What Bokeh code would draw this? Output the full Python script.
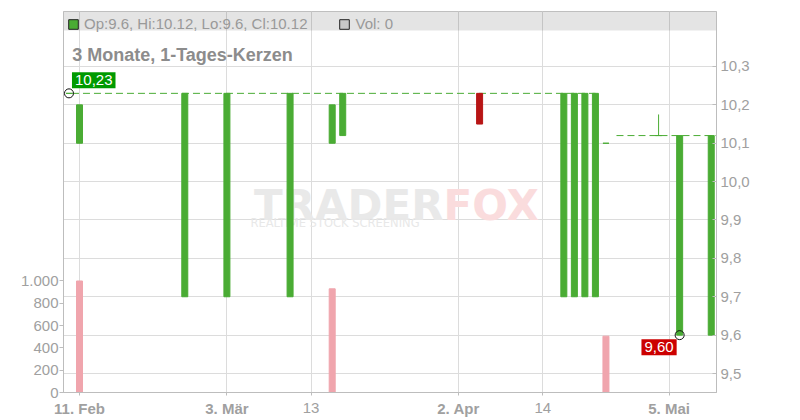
from bokeh.plotting import figure
from bokeh.models import (Range1d, LinearAxis, FixedTicker, Label, BoxAnnotation,
                          ColumnDataSource, Legend, LegendItem)
from bokeh.embed import file_html
from bokeh.resources import INLINE

FONT = "Liberation Sans"

# ---- data (trading-day index, 0 = 11. Feb) ----
candle_day   = [-1, 0, 10, 14, 20, 24, 25, 38, 46, 47, 48, 49, 50, 55, 57, 60]
candle_open  = [10.23, 10.10, 9.70, 9.70, 9.70, 10.10, 10.12, 10.23, 9.70, 9.70, 9.70, 9.70, 10.10, 10.12, 9.60, 9.60]
candle_high  = [10.23, 10.20, 10.23, 10.23, 10.23, 10.20, 10.23, 10.23, 10.23, 10.23, 10.23, 10.23, 10.10, 10.175, 10.12, 10.12]
candle_low   = [10.23, 10.10, 9.70, 9.70, 9.70, 10.10, 10.12, 10.15, 9.70, 9.70, 9.70, 9.70, 10.10, 10.12, 9.60, 9.60]
candle_close = [10.23, 10.20, 10.23, 10.23, 10.23, 10.20, 10.23, 10.15, 10.23, 10.23, 10.23, 10.23, 10.10, 10.12, 10.12, 10.12]

vol_day   = [0, 24, 50]
vol_value = [1000, 930, 505]
last_volume = 0

close_line_start = 51

tick_day   = [0, 14, 22, 36, 44, 56]
tick_label = ["11. Feb", "3. Mär", "13", "2. Apr", "14", "5. Mai"]
tick_bold  = [True, True, False, True, False, True]

price_ticks = [9.5, 9.6, 9.7, 9.8, 9.9, 10.0, 10.1, 10.2, 10.3]
vol_ticks   = [0, 200, 400, 600, 800, 1000]

title_text = "3 Monate, 1-Tages-Kerzen"

GREEN = "#4aac34"
RED = "#b81515"
PINK = "#f0a5ad"
LABEL_GREY = "#a0a0a0"
AXIS_GREY = "#bdbdbd"

X0, X1 = -1.52, 60.5
Y0, Y1 = 9.4505, 10.4433

p = figure(width=800, height=420, output_backend="svg", toolbar_location=None,
           x_range=Range1d(X0, X1), y_range=Range1d(Y0, Y1),
           y_axis_location="right",
           min_border_left=63, min_border_right=84, min_border_top=11, min_border_bottom=28)
p.extra_y_ranges = {"vol": Range1d(0, 3417)}
p.background_fill_color = "white"
p.border_fill_color = "white"
p.outline_line_color = "#c4c4c4"

# grids
p.xgrid.ticker = FixedTicker(ticks=tick_day)
p.ygrid.ticker = FixedTicker(ticks=price_ticks)
p.grid.grid_line_color = "#dcdcdc"
p.grid.grid_line_width = 1

# header band
p.add_layout(BoxAnnotation(bottom=Y1 - 19 / 383.75, fill_color="#000000", fill_alpha=0.105,
                           line_alpha=0, level="underlay"))

# price axis (right)
ya = p.yaxis[0]
ya.ticker = FixedTicker(ticks=price_ticks)
ya.major_label_overrides = {t: f"{t:.1f}".replace(".", ",") for t in price_ticks}
ya.major_tick_in = 4
ya.major_tick_out = 0
ya.minor_tick_line_color = None
ya.major_label_standoff = 4
ya.axis_line_color = AXIS_GREY
ya.major_tick_line_color = AXIS_GREY
ya.major_label_text_color = LABEL_GREY
ya.major_label_text_font = FONT
ya.major_label_text_font_size = "15px"

# volume axis (left)
va = LinearAxis(y_range_name="vol", ticker=FixedTicker(ticks=vol_ticks))
va.major_label_overrides = {v: f"{v:,}".replace(",", ".") for v in vol_ticks}
va.major_tick_in = 0
va.major_tick_out = 4
va.minor_tick_line_color = None
va.major_label_standoff = 1
va.axis_line_color = AXIS_GREY
va.major_tick_line_color = AXIS_GREY
va.major_label_text_color = LABEL_GREY
va.major_label_text_font = FONT
va.major_label_text_font_size = "15px"
p.add_layout(va, "left")

# x axis: bold month labels on the main axis, plain day labels on a second axis
plain_days = [d for d, b in zip(tick_day, tick_bold) if not b]
xa = p.xaxis[0]
xa.ticker = FixedTicker(ticks=tick_day)
xa.major_label_overrides = {d: (t if b else " ") for d, t, b in zip(tick_day, tick_label, tick_bold)}
xa.major_tick_in = 0
xa.major_tick_out = 3
xa.minor_tick_line_color = None
xa.major_label_standoff = 4
xa.axis_line_color = AXIS_GREY
xa.major_tick_line_color = AXIS_GREY
xa.major_label_text_color = LABEL_GREY
xa.major_label_text_font = FONT
xa.major_label_text_font_size = "15px"
xa.major_label_text_font_style = "bold"

xb = LinearAxis(ticker=FixedTicker(ticks=plain_days))
xb.major_label_overrides = {d: t for d, t, b in zip(tick_day, tick_label, tick_bold) if not b}
xb.major_tick_in = 0
xb.major_tick_out = 0
xb.minor_tick_line_color = None
xb.major_label_standoff = -17
xb.axis_line_color = None
xb.major_tick_line_color = None
xb.major_label_text_color = LABEL_GREY
xb.major_label_text_font = FONT
xb.major_label_text_font_size = "15px"
xb.major_label_text_font_style = "normal"
p.add_layout(xb, "below")

# watermark
p.add_layout(Label(x=34.57, y=9.938, text="TRADER", text_align="right", text_baseline="alphabetic",
                   text_font="DejaVu Sans", text_font_style="bold", text_font_size="42px",
                   text_color="#e9e9e9", level="underlay"))
p.add_layout(Label(x=34.57, y=9.938, text="FOX", text_align="left", text_baseline="alphabetic",
                   text_font="DejaVu Sans", text_font_style="bold", text_font_size="42px",
                   text_color="#fadcdd", level="underlay"))
p.add_layout(Label(x=16.23, y=9.891, text="REALTIME STOCK SCREENING", text_align="left",
                   text_baseline="alphabetic", text_font="DejaVu Sans", text_font_size="11.5px",
                   text_color="#e8e8e8", level="underlay"))

# volume bars
p.vbar(x=vol_day, top=vol_value, bottom=0, width=0.57, y_range_name="vol",
       fill_color=PINK, line_color=PINK, line_width=1)

# reference lines
max_val = max(candle_high)
max_i = candle_high.index(max_val)
last_max_i = len(candle_high) - 1 - candle_high[::-1].index(max_val)
min_val = min(candle_low)
min_i = candle_low.index(min_val)
p.segment(x0=[candle_day[max_i]], y0=[max_val], x1=[candle_day[last_max_i]], y1=[max_val],
          line_color=GREEN, line_width=1, line_dash="7 4", line_dash_offset=8)
p.segment(x0=[close_line_start], y0=[candle_close[-1]], x1=[X1], y1=[candle_close[-1]],
          line_color=GREEN, line_width=1, line_dash="7 4")

# candles
n = len(candle_day)
for up, col in ((True, GREEN), (False, RED)):
    idx = [i for i in range(n) if (candle_close[i] >= candle_open[i]) == up]
    src = ColumnDataSource(dict(
        x=[candle_day[i] for i in idx],
        hi=[candle_high[i] for i in idx],
        lo=[candle_low[i] for i in idx],
        top=[max(candle_open[i], candle_close[i]) for i in idx],
        bot=[min(candle_open[i], candle_close[i]) for i in idx],
    ))
    p.segment(x0="x", y0="lo", x1="x", y1="hi", source=src, line_color=col, line_width=1)
    p.vbar(x="x", top="top", bottom="bot", width=0.57, source=src,
           fill_color=col, line_color=col, line_width=1)

# max / min markers
p.scatter(x=[candle_day[max_i], candle_day[min_i]], y=[max_val, min_val], marker="circle",
          size=9, fill_alpha=0, line_color="#111111", line_width=1)
p.add_layout(Label(x=candle_day[max_i], y=max_val, text=f"{max_val:.2f}".replace(".", ","),
                   x_offset=3, y_offset=5, text_align="left", text_baseline="bottom",
                   text_font=FONT, text_font_size="15px", text_color="white",
                   background_fill_color="#009a00", padding=3))
p.add_layout(Label(x=candle_day[min_i], y=min_val, text=f"{min_val:.2f}".replace(".", ","),
                   x_offset=-3, y_offset=-4, text_align="right", text_baseline="top",
                   text_font=FONT, text_font_size="15px", text_color="white",
                   background_fill_color="#cc0000", padding=3))

# title
p.add_layout(Label(x=-0.7, y=10.3305, text=title_text, text_align="left", text_baseline="alphabetic",
                   text_font=FONT, text_font_size="18px", text_font_style="bold", text_color="#8c8c8c"))

# header legend (swatches for the last candle and its volume)
last_src = ColumnDataSource(dict(x=[candle_day[-1]], top=[candle_close[-1]], bot=[candle_open[-1]],
                                 vol=[last_volume]))
r_ohlc = p.vbar(x="x", top="top", bottom="bot", width=0.5, source=last_src,
                fill_color=GREEN, line_color="#222222", line_width=1, visible=False)
r_vol = p.vbar(x="x", top="vol", bottom=0, width=0.5, source=last_src, y_range_name="vol",
               fill_color="#c8c8c8", line_color="#222222", line_width=1, visible=False)
hdr = (f"Op:{candle_open[-1]:g}, Hi:{candle_high[-1]:g}, "
       f"Lo:{candle_low[-1]:g}, Cl:{candle_close[-1]:g}")
legend = Legend(items=[LegendItem(label=hdr, renderers=[r_ohlc]),
                       LegendItem(label=f"Vol: {last_volume}", renderers=[r_vol])],
                orientation="horizontal", location="top_left", margin=0, padding=4,
                spacing=31, glyph_width=12, glyph_height=12, label_height=12,
                label_standoff=5, background_fill_alpha=0, border_line_alpha=0,
                inactive_fill_alpha=0,
                label_text_font=FONT, label_text_font_size="15px", label_text_color="#999999")
p.add_layout(legend)

open("out.html", "w").write(file_html(p, INLINE))
